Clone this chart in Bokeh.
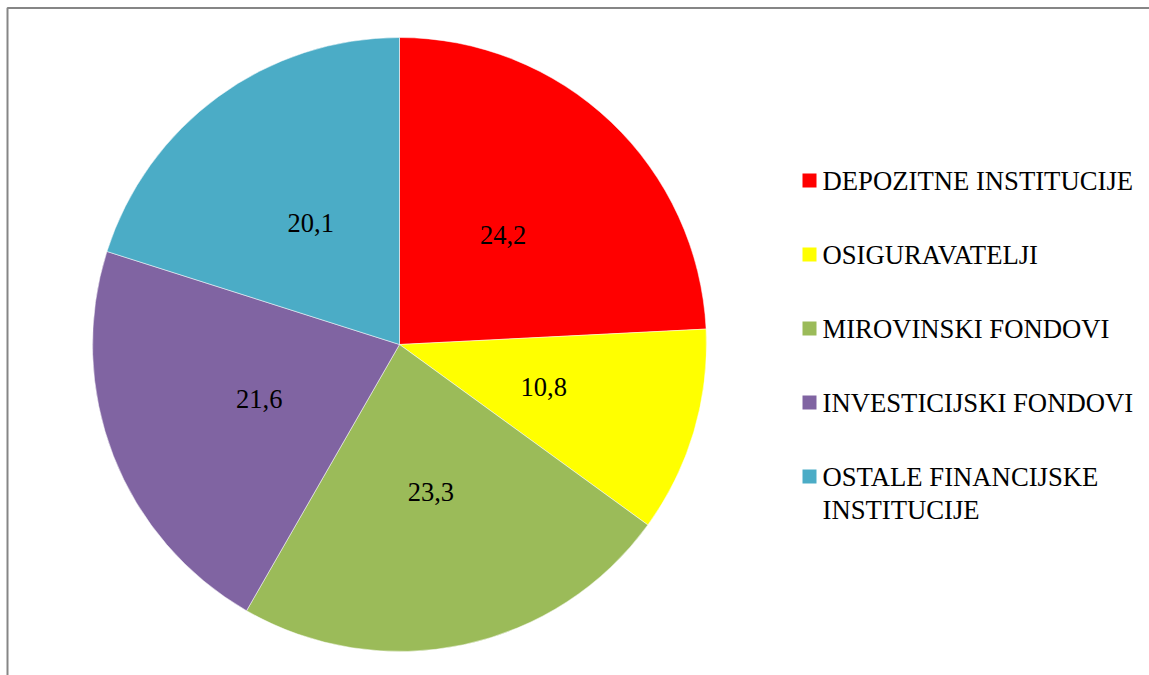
import math
from bokeh.plotting import figure
from bokeh.models import Range1d, ColumnDataSource
from bokeh.core.properties import value
from bokeh.embed import file_html
from bokeh.resources import INLINE

categories = ["DEPOZITNE INSTITUCIJE", "OSIGURAVATELJI", "MIROVINSKI FONDOVI",
              "INVESTICIJSKI FONDOVI", "OSTALE FINANCIJSKE\nINSTITUCIJE"]
values = [24.2, 10.8, 23.3, 21.6, 20.1]
labels = ["24,2", "10,8", "23,3", "21,6", "20,1"]
colors = ["#FF0000", "#FFFF00", "#9BBB59", "#8064A2", "#4BACC6"]

W, H = 1149, 675
p = figure(width=W, height=H, output_backend="svg", toolbar_location=None,
           x_range=Range1d(0, W), y_range=Range1d(0, H), min_border=0,
           outline_line_color=None, background_fill_color="white",
           border_fill_color="white")
p.axis.visible = False
p.grid.visible = False

def px(x):
    return x

def py(y):
    return H - y

cx, cy, r = px(399), py(344), 307
total = sum(values)
starts, ends, lx, ly = [], [], [], []
cum = 0.0
for v in values:
    a0 = math.pi / 2 - 2 * math.pi * cum / total
    a1 = math.pi / 2 - 2 * math.pi * (cum + v) / total
    starts.append(a1)
    ends.append(a0)
    mid = (a0 + a1) / 2
    lx.append(cx + 0.49 * r * math.cos(mid))
    ly.append(cy + 0.49 * r * math.sin(mid))
    cum += v

src = ColumnDataSource(dict(start=starts, end=ends, color=colors,
                            lx=lx, ly=ly, label=labels))
p.wedge(x=cx, y=cy, radius=r, start_angle="start", end_angle="end",
        fill_color="color", line_color="white", line_width=0.5, source=src)
p.text(x="lx", y="ly", text="label", source=src, text_font=value("Liberation Serif"),
       text_font_size="26.5px", text_align="center", text_baseline="middle",
       text_color="black")

# legend
lgx = [px(809)] * len(categories)
lgy = [py(180 + 74 * i) for i in range(len(categories))]
p.rect(x=lgx, y=lgy, width=14, height=14, fill_color=colors, line_color=None)
tx = [px(822)] * len(categories)
ty = [py(180 + 74 * i) + 15 for i in range(len(categories))]
p.text(x=tx, y=ty, text=categories, text_font=value("Liberation Serif"),
       text_font_size="26.7px", text_align="left", text_baseline="top",
       text_color="black", text_line_height=1.12)

# chart area border (top and left visible)
p.line(x=[px(7), px(7), W + 5], y=[-5, py(7.5), py(7.5)],
       line_color="#868686", line_width=2)

open("out.html", "w").write(file_html(p, INLINE))
